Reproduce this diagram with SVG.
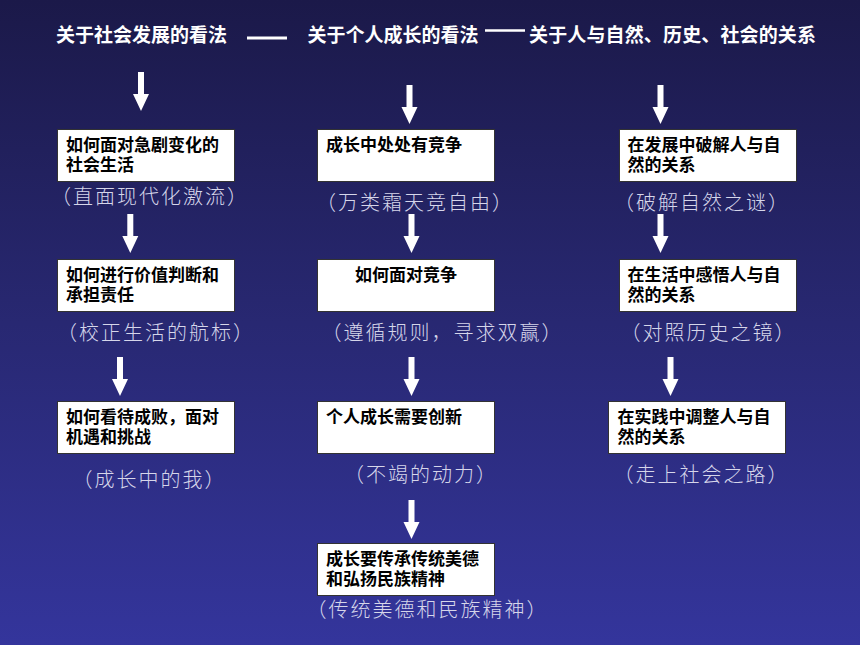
<svg xmlns="http://www.w3.org/2000/svg" xmlns:xlink="http://www.w3.org/1999/xlink" width="860" height="645" viewBox="0 0 860 645">
<defs>
<linearGradient id="bg" x1="0" y1="0" x2="0" y2="1">
<stop offset="0" stop-color="#1b1949"/>
<stop offset="0.5" stop-color="#282872"/>
<stop offset="1" stop-color="#34359c"/>
</linearGradient>
<path id="arrow" d="M-3,0 H3 V22 H8 L0,39 L-8,22 H-3 Z" fill="#ffffff"/>
</defs>
<style>
.title{font-family:"Noto Sans CJK SC","Noto Sans",sans-serif;font-weight:bold;font-size:19px;fill:#ffffff}
.box{fill:#ffffff;stroke:#333333;stroke-width:1}
.bt{font-family:"Noto Sans CJK SC","Noto Sans",sans-serif;font-weight:bold;font-size:17px;fill:#000000}
.sub{font-family:"Noto Sans CJK SC","Noto Sans",sans-serif;font-weight:300;font-size:20px;letter-spacing:2px;fill:#d6d6ea;text-anchor:middle}
.dash{stroke:#ffffff}
</style>
<rect x="0" y="0" width="860" height="645" fill="url(#bg)"/>

<g id="titles">
<text class="title" x="56" y="41.5">关于社会发展的看法</text>
<text class="title" x="307.5" y="41.5">关于个人成长的看法</text>
<text class="title" x="529" y="41.5" textLength="287" lengthAdjust="spacing">关于人与自然、历史、社会的关系</text>
<line class="dash" x1="247" y1="38" x2="287" y2="38" stroke-width="3"/>
<line class="dash" x1="485" y1="30.5" x2="525" y2="30.5" stroke-width="2.5"/>
</g>

<g id="connectors">
<use xlink:href="#arrow" x="141" y="72"/>
<use xlink:href="#arrow" x="409.5" y="85"/>
<use xlink:href="#arrow" x="660.5" y="85"/>
<use xlink:href="#arrow" x="130.3" y="214"/>
<use xlink:href="#arrow" x="411.5" y="214"/>
<use xlink:href="#arrow" x="660.5" y="214"/>
<use xlink:href="#arrow" x="120" y="357"/>
<use xlink:href="#arrow" x="411.5" y="357"/>
<use xlink:href="#arrow" x="670.5" y="357"/>
<use xlink:href="#arrow" x="411.5" y="500"/>
</g>

<g id="n-c1r1">
<rect class="box" x="57.5" y="129.5" width="177" height="52"/>
<text class="bt" x="66" y="151"><tspan x="66">如何面对急剧变化的</tspan><tspan x="66" y="170.5">社会生活</tspan></text>
<text class="sub" x="150" y="204">（直面现代化激流）</text>
</g>
<g id="n-c1r2">
<rect class="box" x="57.5" y="259.5" width="177" height="52"/>
<text class="bt" x="66" y="281"><tspan x="66">如何进行价值判断和</tspan><tspan x="66" y="300.5">承担责任</tspan></text>
<text class="sub" x="156" y="340">（校正生活的航标）</text>
</g>
<g id="n-c1r3">
<rect class="box" x="57.5" y="401.5" width="177" height="52"/>
<text class="bt" x="66" y="423"><tspan x="66">如何看待成败，面对</tspan><tspan x="66" y="442.5">机遇和挑战</tspan></text>
<text class="sub" x="149.5" y="487">（成长中的我）</text>
</g>

<g id="n-c2r1">
<rect class="box" x="317.5" y="129.5" width="177" height="52"/>
<text class="bt" x="326" y="151">成长中处处有竞争</text>
<text class="sub" x="415" y="210">（万类霜天竞自由）</text>
</g>
<g id="n-c2r2">
<rect class="box" x="317.5" y="259.5" width="177" height="52"/>
<text class="bt" x="406" y="281" text-anchor="middle">如何面对竞争</text>
<text class="sub" x="442.5" y="340">（遵循规则，寻求双赢）</text>
</g>
<g id="n-c2r3">
<rect class="box" x="317.5" y="401.5" width="177" height="52"/>
<text class="bt" x="326" y="423">个人成长需要创新</text>
<text class="sub" x="421" y="482">（不竭的动力）</text>
</g>
<g id="n-c2r4">
<rect class="box" x="317.5" y="543.5" width="177" height="52"/>
<text class="bt" x="326" y="565"><tspan x="326">成长要传承传统美德</tspan><tspan x="326" y="584.5">和弘扬民族精神</tspan></text>
<text class="sub" x="427.5" y="617">（传统美德和民族精神）</text>
</g>

<g id="n-c3r1">
<rect class="box" x="619.5" y="129.5" width="177" height="52"/>
<text class="bt" x="627.5" y="151"><tspan x="627.5">在发展中破解人与自</tspan><tspan x="627.5" y="170.5">然的关系</tspan></text>
<text class="sub" x="702" y="210">（破解自然之谜）</text>
</g>
<g id="n-c3r2">
<rect class="box" x="619.5" y="259.5" width="177" height="52"/>
<text class="bt" x="627.5" y="281"><tspan x="627.5">在生活中感悟人与自</tspan><tspan x="627.5" y="300.5">然的关系</tspan></text>
<text class="sub" x="708.5" y="340">（对照历史之镜）</text>
</g>
<g id="n-c3r3">
<rect class="box" x="608.5" y="401.5" width="177" height="52"/>
<text class="bt" x="617.5" y="423"><tspan x="617.5">在实践中调整人与自</tspan><tspan x="617.5" y="442.5">然的关系</tspan></text>
<text class="sub" x="701.5" y="482">（走上社会之路）</text>
</g>
</svg>
